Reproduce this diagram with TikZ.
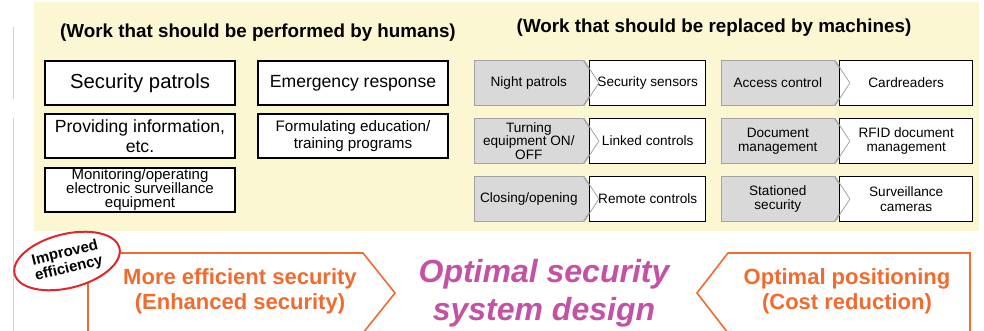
\documentclass[tikz,border=0pt]{standalone}
\usepackage{fontspec}
\setmainfont{Liberation Sans}
\usetikzlibrary{shapes.geometric,shapes.symbols}
\definecolor{cpaper}{HTML}{FBF7D2}
\definecolor{cgrey}{HTML}{D9D9D9}
\definecolor{cgreyline}{HTML}{A3A3A3}
\definecolor{corange}{HTML}{F26B2E}
\definecolor{cmagenta}{HTML}{C352A6}
\definecolor{cred}{HTML}{E3262B}

\begin{document}
\begin{tikzpicture}[x=1pt,y=-1pt,
  hbox/.style={draw,line width=1.4pt,fill=white,minimum width=190pt,
    minimum height=44pt,align=center,inner sep=1pt},
  act/.style={signal,signal to=east,signal pointer angle=112,draw=cgreyline,
    line width=0.8pt,fill=cgrey,minimum height=45pt,inner sep=1pt,
    align=center,anchor=west,font=\fontsize{13.6}{13.6}\selectfont},
  dev/.style={draw,line width=1.4pt,fill=white,minimum height=45pt,
    inner sep=1pt,align=center,anchor=west,font=\fontsize{13.6}{14.5}\selectfont},
  head/.style={font=\bfseries\fontsize{18.8}{20}\selectfont},
  gain/.style={text=corange,align=center,font=\bfseries\fontsize{22}{25}\selectfont},
  arrowline/.style={draw=corange,line width=1.6pt,line join=miter}]
  \clip (0,0) rectangle (984,331);
  \useasboundingbox (0,0) rectangle (984,331);
  \fill[white] (0,0) rectangle (984,331);
  \draw[gray!35,line width=0.8pt] (13,27) -- (13,99) (13,118) -- (13,331);
  \fill[cpaper] (34,2) rectangle (979,231);

  % humans
  \node[head] (hum) at (258,33) {(Work that should be performed by humans)};
  \node[hbox,font=\fontsize{20.3}{22}\selectfont] (sp) at (140,83) {Security patrols};
  \node[hbox,font=\fontsize{17.6}{19}\selectfont] (er) at (353,83) {Emergency response};
  \node[hbox,font=\fontsize{17.6}{20}\selectfont] (pi) at (140,136) {Providing information,\\etc.};
  \node[hbox,font=\fontsize{15.2}{17}\selectfont] (fe) at (353,136) {Formulating education/\\training programs};
  \node[hbox,minimum height=43pt,font=\fontsize{15}{14}\selectfont] (mo) at (140,190)
    {Monitoring/operating\\electronic surveillance\\equipment};

  % machines
  \node[head] (mac) at (714,28) {(Work that should be replaced by machines)};
  \node[act,minimum width=124pt] (np) at (474,83) {Night patrols};
  \node[act,minimum width=124pt] (to) at (474,141) {Turning\\equipment ON/\\OFF};
  \node[act,minimum width=124pt] (co) at (474,199) {Closing/opening};
  \node[act,minimum width=128pt] (ac) at (721,83) {Access control};
  \node[act,minimum width=128pt] (dm) at (721,141) {Document\\management};
  \node[act,minimum width=128pt] (ss) at (721,199) {Stationed\\security};
  \node[dev,minimum width=116pt] (se) at (589,83) {Security sensors};
  \node[dev,minimum width=116pt] (lc) at (589,141) {Linked controls};
  \node[dev,minimum width=116pt] (rc) at (589,199) {Remote controls};
  \node[dev,minimum width=133pt] (cr) at (839,83) {Cardreaders};
  \node[dev,minimum width=133pt] (rf) at (839,141) {RFID document\\management};
  \node[dev,minimum width=133pt] (sc) at (839,199) {Surveillance\\cameras};
  \foreach \n in {np,to,co,ac,dm,ss}
    \draw[cgreyline,line width=0.8pt] ([xshift=-15pt]\n.east |- \n.north)
      -- (\n.east) -- ([xshift=-15pt]\n.east |- \n.south);

  % bottom
  \draw[arrowline,fill=white] (88,340) -- (88,253) -- (363,253) -- (395,293)
    -- (363,333) -- (88,333) -- cycle;
  \draw[arrowline,fill=white] (970,340) -- (970,253) -- (728,253) -- (697,293)
    -- (728,333) -- (970,333) -- cycle;
  \node[ellipse,draw=cred,line width=2pt,fill=white,rotate=14,inner sep=0pt,
    minimum width=108pt,minimum height=54pt,align=center,
    font=\bfseries\fontsize{15}{16}\selectfont] (imp) at (67,261) {Improved\\efficiency};
  \node[gain] (eff) at (240,291) {More efficient security\\(Enhanced security)};
  \node[gain] (cost) at (847,291) {Optimal positioning\\(Cost reduction)};
  \node[text=cmagenta,align=center,font=\bfseries\itshape\fontsize{32}{38}\selectfont]
    (opt) at (544,293) {Optimal security\\system design};
\end{tikzpicture}
\end{document}
